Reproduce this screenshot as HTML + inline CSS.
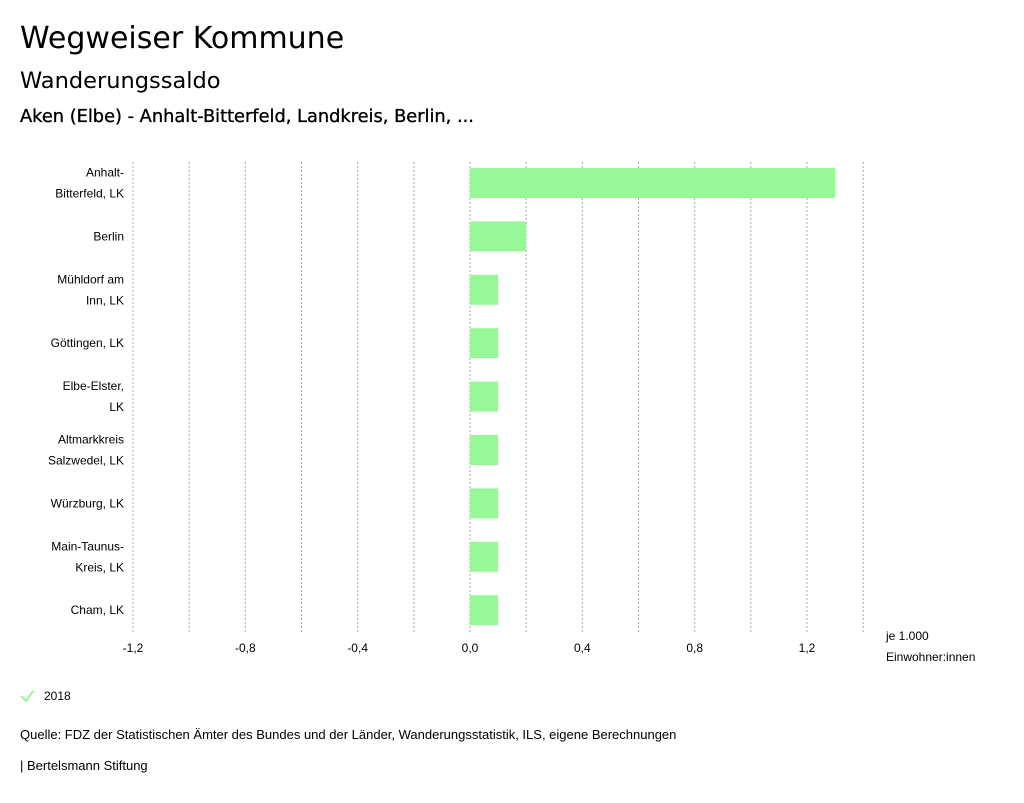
<!DOCTYPE html>
<html><head><meta charset="utf-8"><style>
body{margin:0;background:#fff;font-family:"Liberation Sans",sans-serif;color:#000;}
svg text{font-family:"Liberation Sans",sans-serif;}
svg text.t{font-family:"DejaVu Sans",sans-serif;}
</style></head><body>
<svg width="1024" height="798">
<text class="t" x="20" y="48" font-size="30">Wegweiser Kommune</text>
<text class="t" x="20" y="88" font-size="22.5">Wanderungssaldo</text>
<text class="t" x="20" y="122" font-size="17.8" stroke="#000" stroke-width="0.35">Aken (Elbe) - Anhalt-Bitterfeld, Landkreis, Berlin, ...</text>
<g id="grid"></g><g id="bars"></g><g id="ylabels"></g><g id="xlabels"></g>
<text x="886" y="640" font-size="12">je 1.000</text>
<text x="886" y="661" font-size="12">Einwohner:innen</text>
<path d="M21 696 L26 701 L33 691" stroke="#98f898" stroke-width="2" fill="none"/>
<text x="44" y="700" font-size="12">2018</text>
<text x="20" y="739" font-size="13">Quelle: FDZ der Statistischen Ämter des Bundes und der Länder, Wanderungsstatistik, ILS, eigene Berechnungen</text>
<text x="20" y="770" font-size="13">| Bertelsmann Stiftung</text>
</svg>
<script>
const categories=[["Anhalt-","Bitterfeld, LK"],["Berlin"],["Mühldorf am","Inn, LK"],["Göttingen, LK"],["Elbe-Elster,","LK"],["Altmarkkreis","Salzwedel, LK"],["Würzburg, LK"],["Main-Taunus-","Kreis, LK"],["Cham, LK"]];
const values=[1.3,0.2,0.1,0.1,0.1,0.1,0.1,0.1,0.1];
const ticks=[-1.2,-0.8,-0.4,0,0.4,0.8,1.2];
const ns="http://www.w3.org/2000/svg";
const x=v=>470+v*(337/1.2);
const rowY=i=>183+i*53.4;
const mk=(t,a,p)=>{const e=document.createElementNS(ns,t);for(const k in a)e.setAttribute(k,a[k]);document.getElementById(p).appendChild(e);return e;};
for(let k=-6;k<=7;k++){const v=k*0.2;
 const l=mk("line",{x1:x(v),x2:x(v),y1:162,y2:632,stroke:"#aaa","stroke-dasharray":"2,2"},"grid");
 
 }
ticks.forEach(v=>{const t=mk("text",{x:x(v),y:652,"font-size":12,"text-anchor":"middle"},"xlabels");
 t.textContent=v.toFixed(1).replace(".",",");
 
 });
values.forEach((v,i)=>{const y=rowY(i);
 const r=mk("rect",{x:Math.min(x(0),x(v)),y:y-15,width:Math.abs(x(v)-x(0)),height:30,fill:"#98f898"},"bars");
 
 
 const lines=categories[i];
 lines.forEach((s,j)=>{const t=mk("text",{x:124,y:y+4+(j-(lines.length-1)/2)*21,"font-size":12,"text-anchor":"end"},"ylabels");
  t.textContent=s;
  
  });
});
</script>
</body></html>
